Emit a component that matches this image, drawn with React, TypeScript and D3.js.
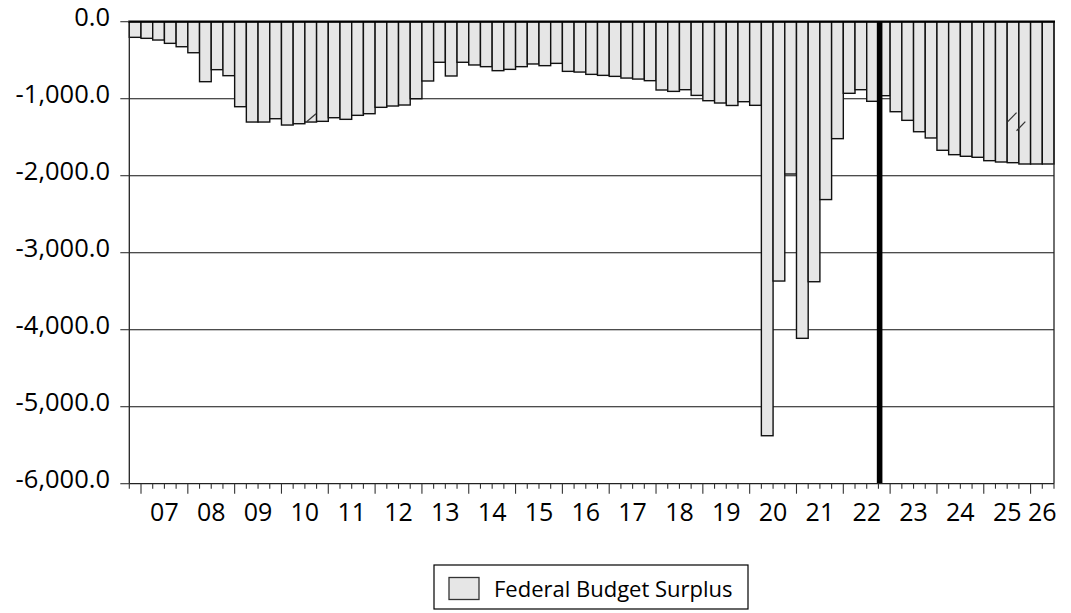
import React, { useRef, useEffect } from "react";
import * as d3 from "d3";

// quarterly observations, 2006Q4 .. 2026Q2 (billions)
const startYear = 2006;
const startQuarter = 4;
const surplus = [
  -203, -216, -238, -281, -325, -403, -779, -623, -701, -1104,
  -1303, -1303, -1260, -1342, -1325, -1303, -1294, -1247, -1268, -1216,
  -1195, -1112, -1095, -1082, -1000, -770, -527, -705, -527, -562,
  -584, -636, -619, -584, -549, -571, -541, -645, -654, -684,
  -697, -710, -732, -745, -766, -887, -905, -883, -957, -1026,
  -1056, -1088, -1039, -1086, -5377, -3368, -1978, -4112, -3377, -2310,
  -1519, -930, -883, -1034, -961, -1169, -1281, -1429, -1510, -1670,
  -1727, -1748, -1761, -1805, -1822, -1831, -1848, -1848, -1848,
];
const quarters = surplus.map((_, i) => {
  const q = startQuarter - 1 + i;
  return `${startYear + Math.floor(q / 4)}Q${(q % 4) + 1}`;
});
const forecastStart = "2022Q4";
const yTicks = [0, -1000, -2000, -3000, -4000, -5000, -6000];
const seriesName = "Federal Budget Surplus";
// small break marks left on the graph: [quarter position, value] pairs
const breakMarks = [
  [[15.15, -1300], [15.95, -1195]],
  [[75.05, -1298], [75.8, -1180]],
  [[75.8, -1416], [76.55, -1298]],
];

export default function App() {
  const ref = useRef<SVGSVGElement>(null);

  useEffect(() => {
    if (!ref.current) return;
    const svg = d3.select(ref.current);
    svg.selectAll("*").remove();

    const left = 129.3, right = 1054, top = 21.7, bottom = 483.7;
    const font = "'Open Sans', sans-serif";

    const x = d3.scaleBand<string>().domain(quarters).range([left, right]).padding(0);
    const xPos = d3.scaleLinear().domain([0, quarters.length]).range([left, right]);
    const y = d3.scaleLinear().domain([-6000, 0]).range([bottom, top]);

    // gridlines
    svg.append("g")
      .selectAll("line")
      .data(yTicks.filter((d) => d !== 0 && d !== -6000))
      .join("line")
      .attr("x1", left).attr("x2", right)
      .attr("y1", (d) => y(d)).attr("y2", (d) => y(d))
      .attr("stroke", "#111").attr("stroke-width", 1.1);

    // bars
    svg.append("g")
      .selectAll("rect")
      .data(surplus)
      .join("rect")
      .attr("x", (_, i) => x(quarters[i])!)
      .attr("y", y(0))
      .attr("width", x.bandwidth())
      .attr("height", (d) => y(d) - y(0))
      .attr("fill", "#e6e6e6")
      .attr("stroke", "#111")
      .attr("stroke-width", 1.4);

    // break marks
    svg.append("g")
      .selectAll("line")
      .data(breakMarks)
      .join("line")
      .attr("x1", (d) => xPos(d[0][0])).attr("y1", (d) => y(d[0][1]))
      .attr("x2", (d) => xPos(d[1][0])).attr("y2", (d) => y(d[1][1]))
      .attr("stroke", "#333").attr("stroke-width", 1.2);

    // forecast divider
    svg.append("line")
      .attr("x1", x(forecastStart)! + 1.2).attr("x2", x(forecastStart)! + 1.2)
      .attr("y1", top).attr("y2", bottom)
      .attr("stroke", "#000").attr("stroke-width", 5.6);

    // frame
    svg.append("line").attr("x1", left).attr("x2", left).attr("y1", top).attr("y2", bottom)
      .attr("stroke", "#222").attr("stroke-width", 1.3);
    svg.append("line").attr("x1", right).attr("x2", right).attr("y1", top).attr("y2", bottom)
      .attr("stroke", "#222").attr("stroke-width", 1.3);
    svg.append("line").attr("x1", left).attr("x2", right).attr("y1", bottom).attr("y2", bottom)
      .attr("stroke", "#222").attr("stroke-width", 1.3);
    svg.append("line").attr("x1", left - 1).attr("x2", right + 1).attr("y1", y(0)).attr("y2", y(0))
      .attr("stroke", "#000").attr("stroke-width", 2.2);

    // y axis ticks + labels
    const yAxis = svg.append("g");
    yAxis.selectAll("line")
      .data(yTicks)
      .join("line")
      .attr("x1", left - 9).attr("x2", left)
      .attr("y1", (d) => y(d)).attr("y2", (d) => y(d))
      .attr("stroke", "#333").attr("stroke-width", 1.1);
    yAxis.selectAll("text")
      .data(yTicks)
      .join("text")
      .attr("x", 110)
      .attr("y", (d) => y(d) + 4)
      .attr("text-anchor", "end")
      .attr("font-family", font)
      .attr("font-size", 25.5)
      .attr("fill", "#000")
      .text((d) => d3.format(",.1f")(d).replace("−", "-"));

    // x axis quarter ticks
    const boundaries = d3.range(quarters.length + 1);
    svg.append("g")
      .selectAll("line")
      .data(boundaries)
      .join("line")
      .attr("x1", (d) => xPos(d)).attr("x2", (d) => xPos(d))
      .attr("y1", bottom)
      .attr("y2", (d) => bottom + (quarters[d] && quarters[d].endsWith("Q1") ? 10 : 5))
      .attr("stroke", "#333").attr("stroke-width", 1.1);

    // year labels centred on their visible quarters
    const years = Array.from(new Set(quarters.map((q) => q.slice(0, 4)))).filter(
      (yr) => quarters.filter((q) => q.startsWith(yr)).length > 1
    );
    svg.append("g")
      .selectAll("text")
      .data(years)
      .join("text")
      .attr("x", (yr) => {
        const qs = quarters.filter((q) => q.startsWith(yr));
        return (x(qs[0])! + x(qs[qs.length - 1])! + x.bandwidth()) / 2;
      })
      .attr("y", 521)
      .attr("text-anchor", "middle")
      .attr("font-family", font)
      .attr("font-size", 25)
      .attr("fill", "#000")
      .text((yr) => yr.slice(2));

    // legend
    const lg = svg.append("g");
    lg.append("rect")
      .attr("x", 434).attr("y", 565).attr("width", 314).attr("height", 44)
      .attr("fill", "#fff").attr("stroke", "#000").attr("stroke-width", 1.2);
    lg.append("rect")
      .attr("x", 449).attr("y", 577.5).attr("width", 30).attr("height", 22)
      .attr("fill", "#e6e6e6").attr("stroke", "#333").attr("stroke-width", 1.3);
    lg.append("text")
      .attr("x", 494).attr("y", 597)
      .attr("font-family", font)
      .attr("font-size", 22)
      .attr("fill", "#000")
      .text(seriesName);
  }, []);

  return (
    <svg
      ref={ref}
      width={1071}
      height={613}
      style={{ position: "absolute", left: 0, top: 0, background: "#fff" }}
    />
  );
}
